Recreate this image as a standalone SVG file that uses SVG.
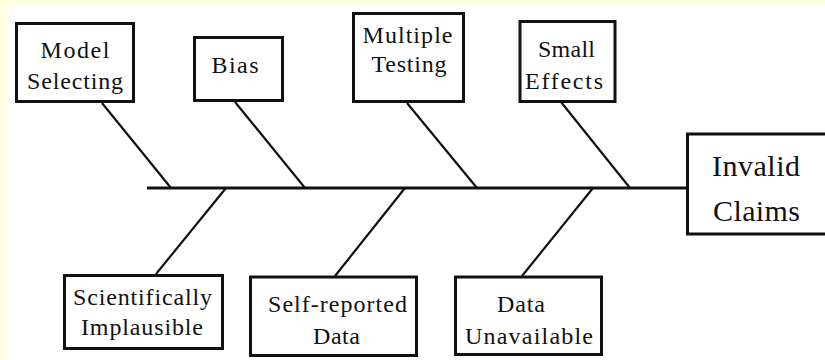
<svg xmlns="http://www.w3.org/2000/svg" width="825" height="360" viewBox="0 0 825 360">
<style>
.box{fill:#ffffff;stroke:#111;stroke-width:3}
.t{font-size:24px;fill:#111;text-anchor:middle}
.big{font-size:30px}
.ln{stroke:#111;stroke-width:2.2;fill:none;stroke-linecap:butt}
.spine{stroke:#111;stroke-width:3}
</style>
<rect x="0" y="0" width="825" height="360" fill="#ffffe3"/>
<rect x="7" y="5" width="818" height="355" fill="#ffffff"/>
<g id="connectors">
<line class="spine" x1="147" y1="188" x2="687" y2="188"/>
<line class="ln" x1="102" y1="103" x2="171" y2="188"/>
<line class="ln" x1="235" y1="102" x2="305" y2="188"/>
<line class="ln" x1="407" y1="103" x2="477" y2="188"/>
<line class="ln" x1="561" y1="102" x2="630" y2="188"/>
<line class="ln" x1="226" y1="188" x2="156" y2="274"/>
<line class="ln" x1="405" y1="188" x2="335" y2="276"/>
<line class="ln" x1="593" y1="188" x2="522" y2="276"/>
</g>
<g font-family="'Liberation Serif', Tinos, 'Times New Roman', Times, 'Noto Serif', 'DejaVu Serif', FreeSerif, 'Nimbus Roman', serif">
<g id="model-selecting">
<rect class="box" x="16.5" y="23.5" width="117" height="78"/>
<text class="t" x="75" y="58" textLength="69">Model</text>
<text class="t" x="75" y="89" textLength="96">Selecting</text>
</g>
<g id="bias">
<rect class="box" x="194.5" y="37.5" width="88" height="63"/>
<text class="t" x="235" y="73" textLength="47">Bias</text>
</g>
<g id="multiple-testing">
<rect class="box" x="353.5" y="13.5" width="110" height="88"/>
<text class="t" x="407.5" y="43" textLength="90">Multiple</text>
<text class="t" x="409" y="72" textLength="75">Testing</text>
</g>
<g id="small-effects">
<rect class="box" x="520" y="21.5" width="95" height="80"/>
<text class="t" x="566.5" y="57" textLength="57">Small</text>
<text class="t" x="564" y="89" textLength="78">Effects</text>
</g>
<g id="invalid-claims">
<rect class="box" x="687.5" y="134" width="160" height="100"/>
<text class="t big" x="756" y="176" textLength="88">Invalid</text>
<text class="t big" x="756.5" y="221" textLength="87">Claims</text>
</g>
<g id="scientifically-implausible">
<rect class="box" x="64.5" y="275.5" width="158" height="73"/>
<text class="t" x="142.5" y="305" textLength="139">Scientifically</text>
<text class="t" x="142" y="335" textLength="122">Implausible</text>
</g>
<g id="self-reported-data">
<rect class="box" x="250.5" y="277" width="166" height="78.5"/>
<text class="t" x="337.5" y="312" textLength="139">Self-reported</text>
<text class="t" x="336.5" y="344" textLength="47">Data</text>
</g>
<g id="data-unavailable">
<rect class="box" x="455.5" y="277" width="146" height="77.5"/>
<text class="t" x="521" y="312" textLength="48">Data</text>
<text class="t" x="529" y="344" textLength="128">Unavailable</text>
</g>
</g>
</svg>
